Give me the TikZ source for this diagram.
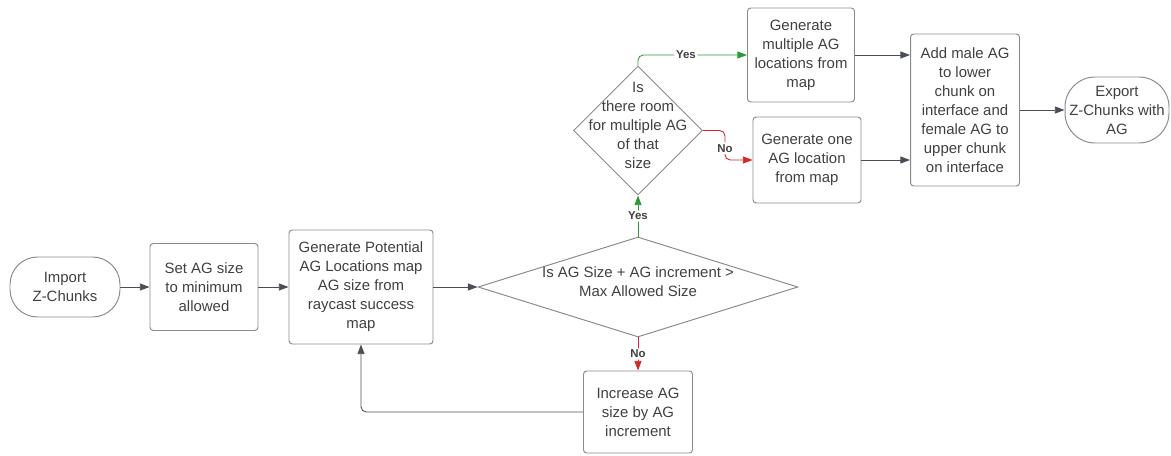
\documentclass[tikz,border=0pt]{standalone}
\usepackage{fontspec}
\setmainfont{Liberation Sans}
\usetikzlibrary{arrows.meta,shapes.geometric}
\definecolor{boxline}{HTML}{8A8A8A}
\definecolor{boxtext}{HTML}{404040}
\definecolor{arrline}{HTML}{4A4F57}
\definecolor{yesgreen}{HTML}{2E9A35}
\definecolor{nored}{HTML}{D6262B}
\newcommand{\dtext}[1]{\smash{\makebox[0pt]{\begin{tabular}{@{}c@{}}#1\end{tabular}}}}

\begin{document}
\begin{tikzpicture}[x=0.02cm,y=-0.02cm,
  font=\fontsize{8.5}{10.8}\selectfont,
  every node/.style={text=boxtext},
  box/.style={draw=boxline,line width=0.55pt,rectangle,rounded corners=1.8pt,align=center,inner sep=1pt},
  term/.style={draw=boxline,line width=0.55pt,rectangle,rounded corners=0.55cm,align=center,inner sep=1pt},
  decision/.style={draw=boxline,line width=0.55pt,diamond,inner sep=0pt},
  flow/.style={draw=arrline,line width=0.5pt,-{Triangle[length=5.5pt,width=4pt]}},
  yesflow/.style={flow,draw=yesgreen,-{Triangle[length=5.5pt,width=4pt,color=yesgreen]},rounded corners=3pt},
  noflow/.style={flow,draw=nored,-{Triangle[length=5.5pt,width=4pt,color=nored]},rounded corners=3pt},
  lbl/.style={fill=white,inner sep=1pt,font=\fontsize{6.5}{8}\selectfont\bfseries,text=boxtext}]
\useasboundingbox (0,0) rectangle (1171,456);

\node[term,minimum width=2.2cm,minimum height=1.2cm] (import) at (65,287) {Import\\Z-Chunks};
\node[box,minimum width=2.16cm,minimum height=1.74cm] (setsize) at (204,287) {Set AG size\\to minimum\\allowed};
\node[box,minimum width=2.88cm,minimum height=2.28cm] (genmap) at (361,287) {Generate Potential\\AG Locations map\\AG size from\\raycast success\\map};
\node[decision,minimum width=6.4cm,minimum height=2cm] (maxq) at (638,287) {\dtext{Is AG Size + AG increment >\\Max Allowed Size}};
\node[box,minimum width=2.18cm,minimum height=1.64cm] (incsize) at (638,412) {Increase AG\\size by AG\\increment};
\node[decision,minimum width=2.58cm,minimum height=2.58cm] (roomq) at (638,130.5) {\dtext{Is\\there room\\for multiple AG\\of that\\size}};
\node[box,minimum width=2.14cm,minimum height=1.88cm] (genmulti) at (801,55) {Generate\\multiple AG\\locations from\\map};
\node[box,minimum width=2.16cm,minimum height=1.72cm] (genone) at (807,160) {Generate one\\AG location\\from map};
\node[box,minimum width=2.18cm,minimum height=3.04cm] (addag) at (965,110) {Add male AG\\to lower\\chunk on\\interface and\\female AG to\\upper chunk\\on interface};
\node[term,minimum width=2.08cm,minimum height=1.32cm,rounded corners=0.6cm] (export) at (1117,110) {Export\\Z-Chunks with\\AG};

\draw[flow] (import) -- (setsize);
\draw[flow] (setsize) -- (genmap);
\draw[flow] (genmap) -- (maxq);
\draw[yesflow] (maxq.north) -- node[lbl] (yes1) {Yes} (roomq.south);
\draw[noflow] (maxq.south) -- node[lbl] (no1) {No} (incsize.north);
\draw[flow,rounded corners=3pt] (incsize.west) -| (genmap.south);
\draw[yesflow] (roomq.north) |- node[lbl,pos=0.72] (yes2) {Yes} (genmulti.west);
\draw[noflow] (roomq.east) -- ++(22,0) |- node[lbl,pos=0.3] (no2) {No} (genone.west);
\draw[flow] (genmulti.east) -- (genmulti.east -| addag.west);
\draw[flow] (genone.east) -- (genone.east -| addag.west);
\draw[flow] (addag) -- (export);
\end{tikzpicture}
\end{document}
